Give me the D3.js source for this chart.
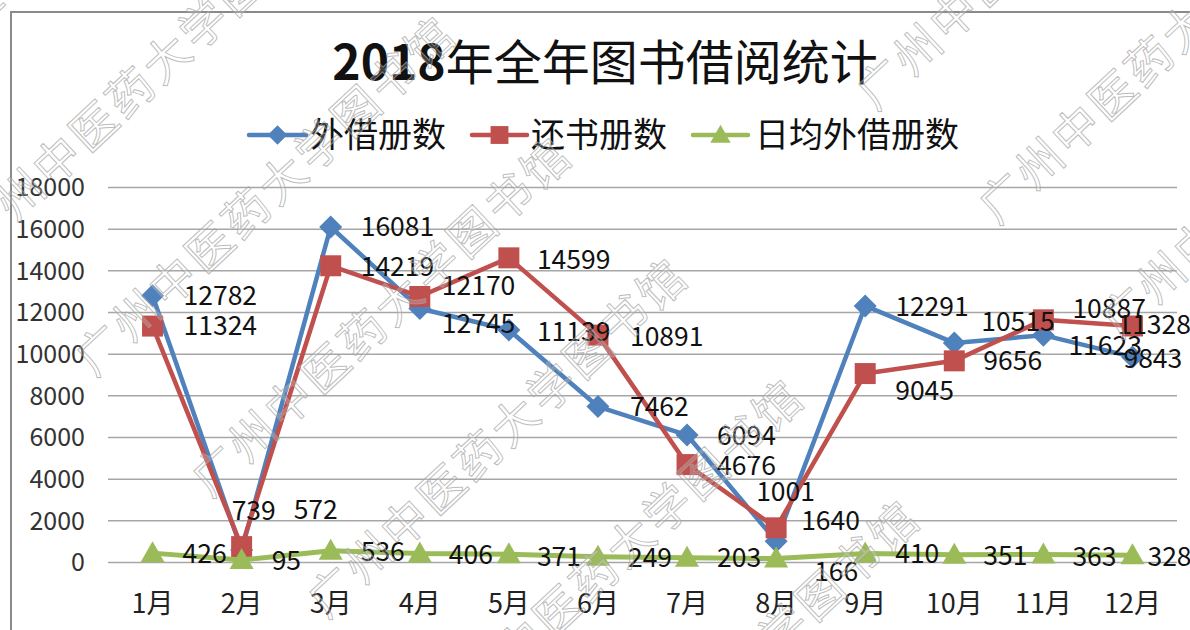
<!DOCTYPE html>
<html><head><meta charset="utf-8">
<script src="https://cdn.jsdelivr.net/npm/d3@7/dist/d3.min.js"></script>
<style>
html,body{margin:0;padding:0;background:#fff;}
svg{display:block;font-family:"Noto Sans CJK SC","Noto Sans",sans-serif;}
</style></head>
<body>
<svg id="chart" width="1190" height="630"></svg>
<script>
// ---- data ----
const months = ["1月","2月","3月","4月","5月","6月","7月","8月","9月","10月","11月","12月"];
const seriesNames = ["外借册数","还书册数","日均外借册数"];
const borrowed = [12782, 572, 16081, 12170, 11139, 7462, 6094, 1001, 12291, 10515, 10887, 9843];
const returned = [11324, 739, 14219, 12745, 14599, 10891, 4676, 1640, 9045, 9656, 11623, 11328];
const dailyAvg = [426, 95, 536, 406, 371, 249, 203, 166, 410, 351, 363, 328];
const yTicks = [0, 2000, 4000, 6000, 8000, 10000, 12000, 14000, 16000, 18000];
const titleYear = "2018";
const titleRest = "年全年图书借阅统计";
const watermarkText = "广州中医药大学图书馆";

// ---- label placement (styling, per point dx/dy from marker) ----
const nudgeBlue = [[31,0],[52,-40],[30,0],[22,-23],[28,2],[32,0],[30,1],[-20,-49],[30,1],[27,-21],[29,-26],[-9,2]];
const nudgeRed  = [[31,0],[-10,-36],[30,1],[22,27],[28,2],[32,2],[30,1],[25,-7],[30,17],[29,0],[25,26],[-15,-1]];
const nudgeGreen= [[30,1],[30,1],[30,1],[29,1],[28,2],[30,1],[30,0],[38,13],[30,0],[29,1],[29,2],[15,2]];

const colors = ["#4F81BD","#C0504D","#9BBB59"];

const svg = d3.select("#chart");

// chart border
svg.append("rect").attr("x",11).attr("y",12).attr("width",1300).attr("height",800)
  .attr("fill","none").attr("stroke","#8a8a8a").attr("stroke-width",2);

const x = d3.scaleBand().domain(months).range([108, 1177]).paddingInner(0).paddingOuter(0);
const cx = m => x(m) + x.bandwidth()/2;
const y = d3.scaleLinear().domain([0, 18000]).range([562, 187]);

// gridlines
const grid = svg.append("g").attr("transform","translate(108,0)")
  .call(d3.axisLeft(y).tickValues(yTicks).tickSize(-(1177-108)).tickFormat(""));
grid.select(".domain").remove();
grid.selectAll("line").attr("stroke","#a6a6a6").attr("stroke-width",1.5);

// y labels
const ya = svg.append("g").attr("transform","translate(85,0)")
  .call(d3.axisLeft(y).tickValues(yTicks).tickSize(0).tickPadding(0).tickFormat(d3.format("d")));
ya.select(".domain").remove();
ya.selectAll("text").attr("font-size",25).attr("fill","#333")
  .attr("font-family","'Noto Sans CJK SC',sans-serif").attr("dy","0.35em");

// x labels
const xa = svg.append("g").attr("transform","translate(0,562)")
  .call(d3.axisBottom(x).tickSize(0).tickPadding(0));
xa.select(".domain").remove();
xa.selectAll("text").attr("font-size",27).attr("fill","#222")
  .attr("font-family","'Noto Sans CJK SC',sans-serif").attr("y",42).attr("dy","0.35em");

// series
const series = [
  {vals: borrowed, color: colors[0], nudge: nudgeBlue, w: 4.5},
  {vals: returned, color: colors[1], nudge: nudgeRed, w: 4.5},
  {vals: dailyAvg, color: colors[2], nudge: nudgeGreen, w: 5}
];
const line = d3.line().x((d,i)=>cx(months[i])).y(d=>y(d));
const diamond = {draw(ctx, s){ const w=11.5, h=11.5; ctx.moveTo(0,-h); ctx.lineTo(w,0); ctx.lineTo(0,h); ctx.lineTo(-w,0); ctx.closePath(); }};
const tri = {draw(ctx, s){ ctx.moveTo(0,-12); ctx.lineTo(12,9); ctx.lineTo(-12,9); ctx.closePath(); }};
const sq = {draw(ctx, s){ ctx.rect(-10.5,-10.5,21,21); }};
const shapes = [diamond, sq, tri];

series.forEach((s, si) => {
  const g = svg.append("g");
  g.append("path").datum(s.vals).attr("d", line).attr("fill","none")
    .attr("stroke", s.color).attr("stroke-width",s.w).attr("stroke-linejoin","round");
  g.selectAll("path.mk").data(s.vals).join("path").attr("class","mk")
    .attr("transform",(d,i)=>`translate(${cx(months[i])},${y(d)})`)
    .attr("d", d3.symbol().type(shapes[si])())
    .attr("fill", s.color);
});

// data labels
series.forEach(s => {
  svg.append("g").selectAll("text").data(s.vals).join("text")
    .attr("x",(d,i)=>cx(months[i]) + s.nudge[i][0])
    .attr("y",(d,i)=>y(d) + s.nudge[i][1])
    .attr("dy","0.35em").attr("font-size",26.5).attr("fill","#111")
    .text(d=>d);
});

// title
const t = svg.append("text").attr("x",605).attr("y",63).attr("text-anchor","middle")
  .attr("dy","0.35em").attr("font-size",48).attr("fill","#111");
t.append("tspan").attr("font-weight","bold").text(titleYear);
t.append("tspan").attr("font-weight","normal").text(titleRest);

// legend
const legendItems = [
  {name: seriesNames[0], x0: 249, x1: 306, tx: 310},
  {name: seriesNames[1], x0: 472, x1: 527, tx: 531},
  {name: seriesNames[2], x0: 693, x1: 748, tx: 755}
];
const lg = svg.append("g");
legendItems.forEach((it, i) => {
  lg.append("line").attr("x1",it.x0).attr("x2",it.x1).attr("y1",135).attr("y2",135)
    .attr("stroke",colors[i]).attr("stroke-width",4.5).attr("stroke-linecap","round");
  lg.append("path").attr("transform",`translate(${(it.x0+it.x1)/2},135) scale(0.85)`)
    .attr("d", d3.symbol().type(shapes[i])()).attr("fill",colors[i]);
  lg.append("text").attr("x",it.tx).attr("y",135).attr("dy","0.35em")
    .attr("font-size",34).attr("fill","#111").text(it.name);
});

// watermark
const ang = -43;
const anchors = [];
for (let k=-1;k<=5;k++) anchors.push([-14+116*k, 228+121*k]);
for (let k=0;k<=3;k++) anchors.push([883+122*k, 83+114*k]);
const wm = svg.append("g").attr("pointer-events","none");
anchors.forEach(a => {
  const sx = a[0] - 18.5, sy = a[1] + 17;
  wm.append("text").attr("transform",`translate(${sx},${sy}) rotate(${ang})`)
    .attr("dy","0.35em").attr("font-size",46).attr("letter-spacing",4)
    .attr("fill","rgba(255,255,255,0.2)").attr("stroke","rgba(160,160,160,0.7)")
    .attr("stroke-width",1).attr("font-weight","normal")
    .text(watermarkText);
});
</script>
</body></html>
